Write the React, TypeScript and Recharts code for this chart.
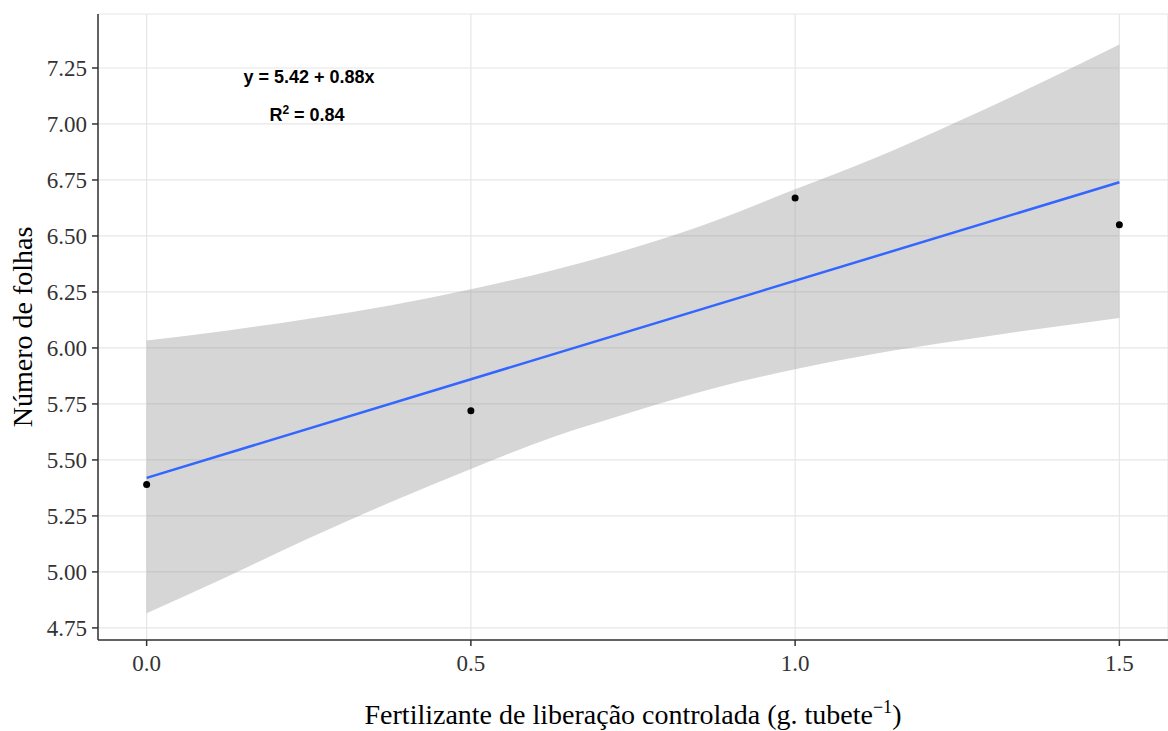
import { ComposedChart, Area, Line, Scatter, XAxis, YAxis, CartesianGrid, Label } from 'recharts';

// observed means
const doseX = [0, 0.5, 1.0, 1.5];
const folhas = [5.39, 5.72, 6.67, 6.55];

// fitted line + confidence band
const bandX = [0, 0.125, 0.25, 0.375, 0.5, 0.625, 0.75, 0.875, 1.0, 1.125, 1.25, 1.375, 1.5];
const bandLo = [4.815, 4.98, 5.15, 5.31, 5.46, 5.6, 5.715, 5.82, 5.905, 5.975, 6.032, 6.085, 6.134];
const bandHi = [6.033, 6.078, 6.13, 6.19, 6.262, 6.346, 6.446, 6.566, 6.708, 6.85, 7.01, 7.178, 7.355];
const fitX = [0, 1.5];
const fitY = [5.42, 6.74];

const xTicks = [0, 0.5, 1.0, 1.5];
const yTicks = [4.75, 5.0, 5.25, 5.5, 5.75, 6.0, 6.25, 6.5, 6.75, 7.0, 7.25];

const fitData = bandX.map((x, i) => {
  const j = fitX.indexOf(x);
  return { x, band: [bandLo[i], bandHi[i]], fit: j >= 0 ? fitY[j] : null };
});
const pointData = doseX.map((x, i) => ({ x, y: folhas[i] }));

const serif = '"Liberation Serif", "Times New Roman", serif';
const tickStyle = { fontSize: 23, fill: '#333', fontFamily: serif };

const XTitle = ({ viewBox }: any) => {
  const cx = viewBox.x + viewBox.width / 2;
  return (
    <text x={cx} y={724} textAnchor="middle" fontFamily={serif} fontSize={28} fill="#000">
      Fertilizante de liberação controlada (g. tubete
      <tspan fontSize={18} dy={-11}>−1</tspan>
      <tspan dy={11}>)</tspan>
    </text>
  );
};

const YTitle = ({ viewBox }: any) => {
  const cy = viewBox.y + viewBox.height / 2;
  return (
    <text x={32} y={cy} transform={`rotate(-90 32 ${cy})`} textAnchor="middle" fontFamily={serif} fontSize={28} fill="#000">
      Número de folhas
    </text>
  );
};

const Dot = (props: any) => <circle cx={props.cx} cy={props.cy} r={3.5} fill="#000" />;

const annoStyle: React.CSSProperties = {
  position: 'absolute',
  fontFamily: '"Liberation Sans", Arial, sans-serif',
  fontWeight: 'bold',
  fontSize: 18,
  color: '#000',
  transform: 'translateX(-50%)',
  whiteSpace: 'nowrap',
};

export default function App() {
  return (
    <div style={{ position: 'absolute', left: 0, top: 0, width: 1168, height: 731, background: '#fff' }}>
      <ComposedChart width={1168} height={731} data={fitData} margin={{ top: 14, right: 0, left: 0, bottom: 0 }}>
        <CartesianGrid stroke="#e6e6e6" strokeWidth={1.2} />
        <XAxis
          type="number"
          dataKey="x"
          domain={[-0.075, 1.575]}
          ticks={xTicks}
          tickFormatter={(v) => v.toFixed(1)}
          height={91}
          tick={tickStyle}
          tickSize={6}
          tickMargin={9}
          stroke="#333"
          strokeWidth={1.5}
          allowDataOverflow
        >
          <Label content={<XTitle />} />
        </XAxis>
        <YAxis
          type="number"
          domain={[4.696, 7.491]}
          ticks={yTicks}
          tickFormatter={(v) => v.toFixed(2)}
          width={98}
          tick={tickStyle}
          tickSize={6}
          tickMargin={5}
          stroke="#333"
          strokeWidth={1.5}
          allowDataOverflow
        >
          <Label content={<YTitle />} />
        </YAxis>
        <Area type="monotone" dataKey="band" stroke="none" fill="#999999" fillOpacity={0.4} isAnimationActive={false} />
        <Line type="linear" dataKey="fit" stroke="#3366FF" strokeWidth={2.5} dot={false} connectNulls isAnimationActive={false} />
        <Scatter data={pointData} dataKey="y" shape={<Dot />} isAnimationActive={false} />
      </ComposedChart>
      <div style={{ ...annoStyle, left: 309, top: 67 }}>y = 5.42 + 0.88x</div>
      <div style={{ ...annoStyle, left: 307, top: 103 }}>
        R<sup style={{ fontSize: 12 }}>2</sup> = 0.84
      </div>
    </div>
  );
}
